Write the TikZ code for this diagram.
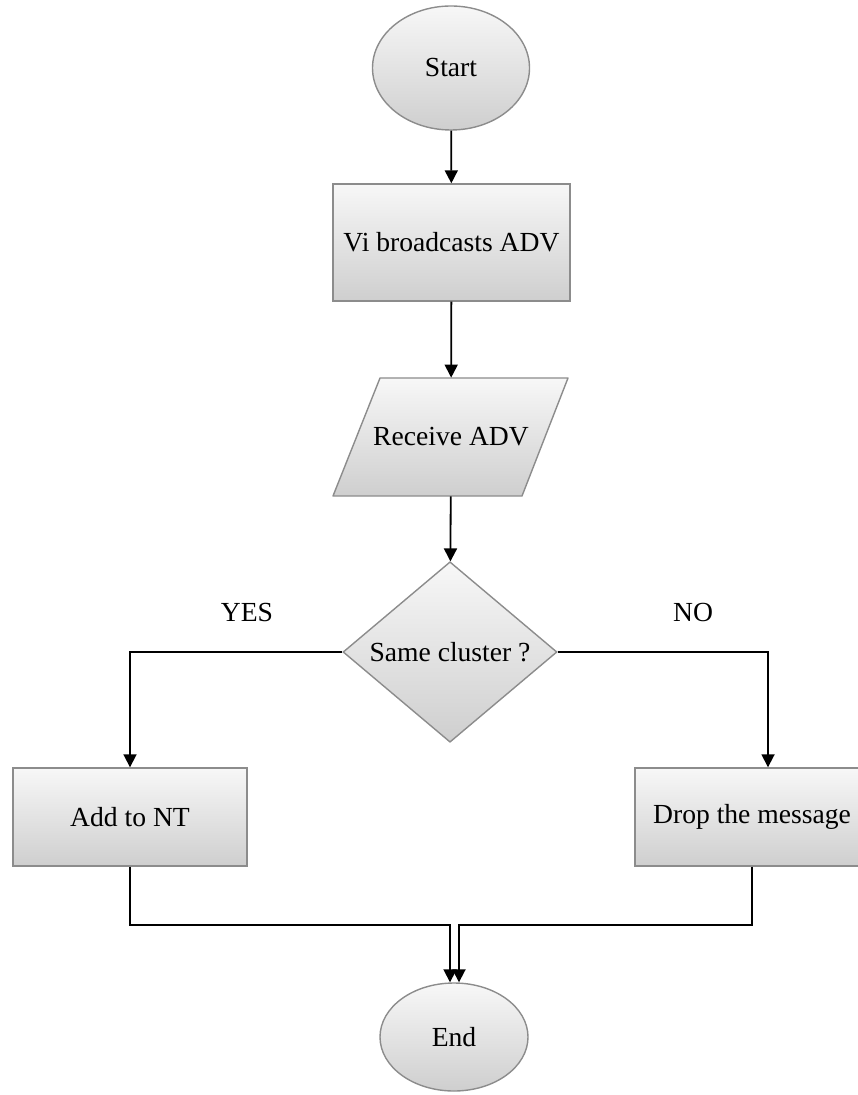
\documentclass[tikz,border=0pt]{standalone}
\usepackage{fontspec}
\setmainfont{Liberation Serif}
\usetikzlibrary{shapes.geometric,arrows.meta}
\begin{document}
\begin{tikzpicture}[x=0.5pt,y=-0.5pt,
  font=\fontsize{13.8pt}{16pt}\selectfont,
  shadefill/.style={top color=black!3, bottom color=black!19},
  outline/.style={draw=black!45, line width=0.7pt},
  shaded/.style={outline, shadefill, inner sep=0pt},
  terminal/.style={shaded, ellipse},
  process/.style={shaded, rectangle, minimum width=117pt, minimum height=49pt},
  decision/.style={shaded, diamond, minimum width=107pt, minimum height=77pt},
  flow/.style={draw=black, line width=0.9pt, -{Triangle[length=6.5pt,width=6.5pt]}},
  branch/.style={font=\fontsize{13.8pt}{16pt}\selectfont}
  ]
\useasboundingbox (0,0) rectangle (857,1095);

% input/output parallelogram, drawn as a slanted outline
\shade[shadefill] (380,378) -- (568,378) -- (522,496) -- (333,496) -- cycle;
\draw[outline, line join=round] (380,378) -- (568,378) -- (522,496) -- (333,496) -- cycle;

% nodes
\node[terminal, minimum width=78.5pt, minimum height=62pt] (start) at (451,68) {Start};
\node[process, minimum width=118.5pt, minimum height=58.5pt] (bcast) at (451.5,242.5) {Vi broadcasts ADV};
\node[rectangle, inner sep=0pt, minimum width=117.5pt, minimum height=59pt] (recv) at (451,437) {Receive ADV};
\node[decision] (dec) at (450,652) {Same cluster ?};
\node[process] (addnt) at (130,817) {Add to NT};
\node[process] (drop) at (752,817) {Drop the message};
\node[terminal, minimum width=74pt, minimum height=54pt] (fin) at (454,1037) {End};

% branch labels
\node[branch] (yes) at (247,612) {YES};
\node[branch] (no) at (693,612) {NO};

% arrival points on the end terminal
\coordinate (inL) at ([xshift=-2pt]fin.north);
\coordinate (inR) at ([xshift=2.5pt]fin.north);

% connectors
\draw[flow] (start) -- (bcast);
\draw[flow] (bcast) -- (recv);
\draw[flow] (recv) -- (dec);
\draw[flow] (dec.west) -| (addnt.north);
\draw[flow] (dec.east) -| ([xshift=8pt]drop.north);
\draw[flow] (addnt.south) -- ++(0,58) -| (inL);
\draw[flow] (drop.south) -- ++(0,58) -| (inR);
\end{tikzpicture}
\end{document}
